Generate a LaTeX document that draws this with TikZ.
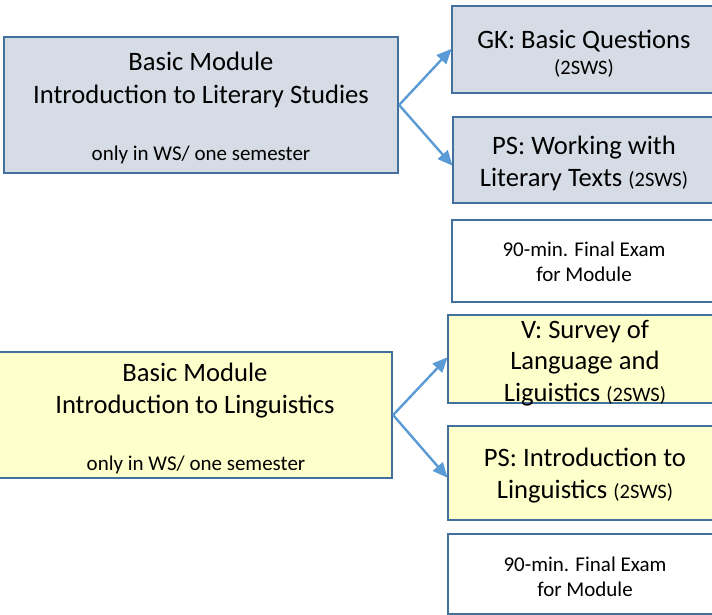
\documentclass[tikz,border=0pt]{standalone}
\usepackage{fontspec}
\setmainfont{Carlito}
\usetikzlibrary{arrows.meta}
\definecolor{bgray}{HTML}{D6DCE5}
\definecolor{byel}{HTML}{FFFFCC}
\definecolor{bord}{HTML}{41719C}
\definecolor{arr}{HTML}{5B9BD5}
\tikzset{
  box/.style={draw=bord, line width=2.2pt, inner sep=0pt},
  big/.style={anchor=base, inner sep=0pt, yshift=-1.5pt, font=\fontsize{26.6}{30}\selectfont},
  small/.style={anchor=base, inner sep=0pt, yshift=-1pt, font=\fontsize{21}{25}\selectfont},
  conn/.style={draw=arr, line width=2.4pt, -{Triangle[length=15pt,width=13pt]}, shorten >=-1pt},
}
\newcommand{\sws}{{\fontsize{20.5}{24}\selectfont (2SWS)}}
\begin{document}
\begin{tikzpicture}[x=1pt,y=-1pt]
\useasboundingbox (0,0) rectangle (712,614);
\clip (0,0) rectangle (712,614);
% boxes
\node[box,fill=bgray,minimum width=394pt,minimum height=136pt] (Abox) at (201,105) {};
\node[box,fill=bgray,minimum width=264pt,minimum height=87pt] (GK) at (584,49.5) {};
\node[box,fill=bgray,minimum width=264pt,minimum height=86pt] (PS1) at (585,160) {};
\node[box,fill=white,minimum width=264pt,minimum height=82pt] (E1) at (584,261) {};
\node[box,fill=byel,minimum width=394pt,minimum height=126pt] (Bbox) at (195,415) {};
\node[box,fill=byel,minimum width=274pt,minimum height=88pt] (V) at (585,359) {};
\node[box,fill=byel,minimum width=274pt,minimum height=94pt] (PS2) at (585,473) {};
\node[box,fill=white,minimum width=274pt,minimum height=80pt] (E2) at (585,574) {};
% texts
\node[big] (a1) at (201,69) {Basic Module};
\node[big] (a2) at (201,102) {Introduction to Literary Studies};
\node[small] (a3) at (201,159) {only in WS/ one semester};
\node[big] (g1) at (584,47) {GK: Basic Questions};
\node[big] (g2) at (584,73) {\sws};
\node[big] (p1) at (584,153) {PS: Working with};
\node[big] (p2) at (584,185) {Literary Texts \sws};
\node[small] (e1) at (584,255) {90-min. Final Exam};
\node[small] (e2) at (584,280) {for Module};
\node[big] (b1) at (195,380) {Basic Module};
\node[big] (b2) at (195,412) {Introduction to Linguistics};
\node[small] (b3) at (196,469) {only in WS/ one semester};
\node[big] (v1) at (585,337) {V: Survey of};
\node[big] (v2) at (585,368) {Language and};
\node[big] (v3) at (585,400) {Liguistics \sws};
\node[big] (q1) at (585,465) {PS: Introduction to};
\node[big] (q2) at (585,497) {Linguistics \sws};
\node[small] (f1) at (585,570) {90-min. Final Exam};
\node[small] (f2) at (585,595) {for Module};
% connectors
\coordinate (ao) at (Abox.east);
\coordinate (bo) at (Bbox.east);
\draw[conn] (ao) -- (GK.west);
\draw[conn] (ao) -- ([yshift=-5pt]PS1.west);
\draw[conn] (bo) -- ([yshift=1pt]V.west);
\draw[conn] (bo) -- ([yshift=-4pt]PS2.west);
\end{tikzpicture}
\end{document}
